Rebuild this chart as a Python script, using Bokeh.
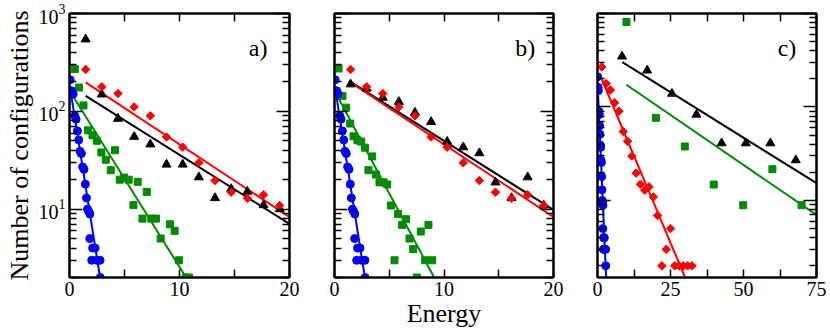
import math
from bokeh.plotting import figure
from bokeh.layouts import row
from bokeh.models import (LogAxis, LinearAxis, FixedTicker, Label, Range1d,
                          CustomJSTickFormatter)
from bokeh.embed import file_html
from bokeh.resources import INLINE

FONT = "Liberation Serif"
GREEN = "#008b00"

# ---------------- data ----------------
# red diamonds: identical in all three panels
E_red = [1.47, 2.94, 4.41, 5.88, 7.35, 8.82, 10.29, 11.76, 13.23, 14.70, 16.17,
         17.64, 19.11, 20.58, 22.05, 23.52, 24.99, 26.46, 27.93, 29.40, 30.87, 32.34]
N_red = [268, 178, 152, 111, 90, 54.6, 43, 29.8, 19.6, 14.9, 12.9,
         14, 10.9, 6.9, 2, 3, 5, 2, 2, 2, 2, 2]
fit_red_E = [1.47, 30.0]
fit_red_N = [198, 1.5]

# blue circles: identical in all three panels
E_blue = [0.06, 0.20, 0.33, 0.48, 0.60, 0.72, 0.84, 0.96, 1.08, 1.20, 1.32,
          1.44, 1.54, 1.64, 1.74, 1.86, 1.84, 2.10, 2.33, 2.02, 2.47, 2.78, 2.80]
N_blue = [210, 162, 150, 90, 83, 63, 51, 39, 37, 27, 25.5,
          18, 13, 10, 9.5, 8.9, 5, 4, 4, 3, 3, 3, 2]
fit_blue_E = [0.05, 2.95]
fit_blue_N = [175, 1.5]

# panel a
E_a_black = [1.47, 2.94, 4.41, 5.88, 7.35, 8.82, 10.29, 11.76, 13.23, 14.70, 16.17, 17.64, 19.11]
N_a_black = [545, 149, 84, 55, 46, 28.6, 28.6, 21.2, 13.0, 16.1, 15.1, 11.0, 10.0]
fit_a_black_E = [1.47, 20.0]
fit_a_black_N = [144, 7.06]
E_a_green = [0.48, 0.87, 1.27, 1.69, 2.09, 2.48, 2.90, 3.30, 3.75, 4.14, 4.57, 4.96, 5.38,
             5.81, 6.20, 6.63, 7.02, 7.44, 7.86, 8.29, 9.13, 9.56, 9.95, 10.57, 10.86]
N_a_green = [270, 175, 115, 64, 57, 50, 38, 32, 25, 40, 20, 21, 20,
             11, 19, 8, 15, 8, 8, 5, 7, 6, 3, 2, 2]
fit_a_green_E = [0.27, 10.6]
fit_a_green_N = [146, 2]

# panel b
E_b_black = [1.47, 2.94, 4.41, 5.88, 7.35, 8.82, 10.29, 11.76, 13.23, 14.70, 16.17, 17.64, 19.11]
N_b_black = [189, 171, 138, 125, 97, 78, 49, 43, 37.4, 18.8, 13, 21.2, 10.9]
fit_b_black_E = [1.47, 20.0]
fit_b_black_N = [200, 9.8]
E_b_green = [0.37, 0.73, 1.07, 1.43, 1.74, 2.10, 2.44, 2.78, 3.10, 3.44, 3.78, 4.11, 4.47,
             4.81, 5.15, 5.48, 5.81, 6.18, 6.52, 6.85, 7.19, 7.52, 7.88, 8.28, 8.58, 8.92]
N_b_green = [274, 143, 109, 75, 55.5, 50.5, 49, 42.5, 25, 34.6, 22.6, 18.8, 18.8,
             17.9, 10.9, 3, 8.9, 6.9, 7.9, 5, 3.9, 2, 5.9, 3, 6.9, 3]
fit_b_green_E = [0.22, 9.1]
fit_b_green_N = [146, 2]

# panel c
E_c_black = [8.4, 17.0, 25.5, 33.9, 42.5, 50.8, 59.2, 67.9]
N_c_black = [348, 246, 139, 83, 41, 41, 41, 27]
fit_c_black_E = [8.5, 75.0]
fit_c_black_N = [302, 15.3]
E_c_green = [9.9, 20.0, 29.9, 39.8, 49.9, 59.9, 69.9]
N_c_green = [811, 76.6, 37.8, 14.8, 8.9, 21.6, 8.9]
fit_c_green_E = [9.9, 75.0]
fit_c_green_N = [173, 7.0]

y_major = [10, 100, 1000]
y_minor = [m * 10 ** k for k in range(0, 3) for m in range(2, 10)]


def style_axis(ax, is_x, show_labels):
    ax.axis_line_color = "black"
    ax.axis_line_width = 2
    ax.major_tick_out = 0
    ax.minor_tick_out = 0
    ax.major_tick_line_color = "black"
    ax.minor_tick_line_color = "black"
    ax.major_tick_line_width = 1.5
    ax.minor_tick_line_width = 1.5
    if is_x:
        ax.major_tick_in = 8
        ax.minor_tick_in = 8
    else:
        ax.major_tick_in = 13
        ax.minor_tick_in = 7
    ax.major_label_text_font = FONT
    ax.major_label_text_color = "black"
    if show_labels:
        ax.major_label_text_font_size = "20px"
        ax.major_label_standoff = 4
    else:
        ax.formatter = CustomJSTickFormatter(code="return ''")
        ax.major_label_text_font_size = "1px"
        ax.major_label_standoff = 0


def make_panel(xmax, ymin, xt, xm, bl, br, fw, ylabels):
    p = figure(frame_width=fw, frame_height=264,
               x_range=Range1d(0, xmax), y_range=Range1d(ymin, 1000),
               y_axis_type="log", output_backend="svg", toolbar_location=None,
               min_border_left=bl, min_border_right=br, min_border_top=13,
               min_border_bottom=54)
    p.grid.visible = False
    p.outline_line_color = "black"
    p.outline_line_width = 2
    p.background_fill_color = "white"
    p.border_fill_color = "white"
    xt_ticker = FixedTicker(ticks=xt, minor_ticks=xm)
    y_ticker = FixedTicker(ticks=y_major, minor_ticks=y_minor)
    p.add_layout(LinearAxis(ticker=xt_ticker), "above")
    p.add_layout(LogAxis(ticker=y_ticker), "right")
    for ax in p.xaxis:
        ax.ticker = xt_ticker
        style_axis(ax, True, ax in p.below)
    for ax in p.yaxis:
        ax.ticker = y_ticker
        style_axis(ax, False, ylabels and ax in p.left)
    return p


def draw(p, sets):
    for (E, N, fe, fn, kind) in sets:
        color = {"black": "black", "red": "red", "green": GREEN, "blue": "blue"}[kind]
        p.line(fe, fn, line_color=color, line_width=2)
    for (E, N, fe, fn, kind) in sets:
        if kind == "black":
            p.scatter(E, N, marker="triangle", size=9, color="black")
        elif kind == "red":
            p.scatter(E, N, marker="square", size=6, angle=math.pi / 4, color="red")
        elif kind == "green":
            p.scatter(E, N, marker="square", size=7, color=GREEN)
        else:
            p.scatter(E, N, marker="circle", size=8, color="blue")


pa = make_panel(20, 2, [0, 10, 20], [5, 15], 69, 10, 220, True)
pb = make_panel(20, 2, [0, 10, 20], [5, 15], 35, 10, 219, False)
pc = make_panel(75, 1.5, [0, 25, 50, 75], [12.5, 37.5, 62.5], 34, 14, 219, False)

ya = pa.left[0]
ya.axis_label = "Number of configurations"
ya.axis_label_text_font = FONT
ya.axis_label_text_font_size = "26px"
ya.axis_label_text_font_style = "normal"
ya.axis_label_text_color = "black"
ya.axis_label_standoff = 2

xb = pb.below[0]
xb.axis_label = "Energy"
xb.axis_label_text_font = FONT
xb.axis_label_text_font_size = "26px"
xb.axis_label_text_font_style = "normal"
xb.axis_label_text_color = "black"
xb.axis_label_standoff = 0

draw(pa, [(E_a_black, N_a_black, fit_a_black_E, fit_a_black_N, "black"),
          (E_red, N_red, fit_red_E, fit_red_N, "red"),
          (E_a_green, N_a_green, fit_a_green_E, fit_a_green_N, "green"),
          (E_blue, N_blue, fit_blue_E, fit_blue_N, "blue")])
draw(pb, [(E_b_black, N_b_black, fit_b_black_E, fit_b_black_N, "black"),
          (E_red, N_red, fit_red_E, fit_red_N, "red"),
          (E_b_green, N_b_green, fit_b_green_E, fit_b_green_N, "green"),
          (E_blue, N_blue, fit_blue_E, fit_blue_N, "blue")])
draw(pc, [(E_c_black, N_c_black, fit_c_black_E, fit_c_black_N, "black"),
          (E_red, N_red, fit_red_E, fit_red_N, "red"),
          (E_c_green, N_c_green, fit_c_green_E, fit_c_green_N, "green"),
          (E_blue, N_blue, fit_blue_E, fit_blue_N, "blue")])

for p, x, y, t in [(pa, 16.3, 444, "a)"), (pb, 16.5, 444, "b)"), (pc, 61.7, 424, "c)")]:
    p.add_layout(Label(x=x, y=y, text=t, text_font=FONT, text_font_size="24px",
                       text_color="black", text_baseline="alphabetic", text_align="left"))

layout = row(pa, pb, pc, spacing=0)
open("out.html", "w").write(file_html(layout, INLINE))
